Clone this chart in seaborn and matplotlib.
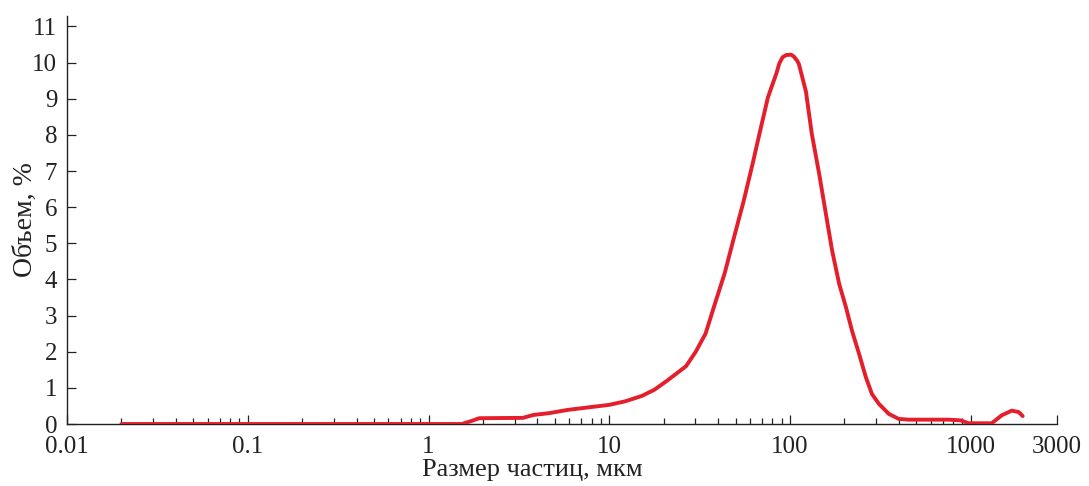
import matplotlib
matplotlib.use("Agg")
import matplotlib.pyplot as plt
import matplotlib.ticker as mticker
import numpy as np
import pandas as pd
import seaborn as sns

# Data (particle size, um -> volume, %)
size_um = [0.02, 1.53, 1.72, 1.91, 3.33, 3.80, 4.64, 5.89, 7.67, 10.0, 12.3, 15.2,
           17.8, 20.9, 23.6, 26.6, 30.1, 34.1, 38.5, 43.5, 49.1, 55.6, 62.1, 68.4,
           75.5, 84.3, 87.3, 91.0, 95.3, 101.3, 105, 109.6, 112, 122.5, 132, 145, 158,
           171, 187, 204, 220, 241, 263, 284, 310, 352, 400, 454, 586, 755, 880, 975,
           1306, 1483, 1686, 1842, 1937]
volume_pct = [0.0, 0.0, 0.08, 0.16, 0.17, 0.25, 0.30, 0.39, 0.46, 0.53, 0.63, 0.78,
              0.95, 1.2, 1.4, 1.6, 2.0, 2.5, 3.34, 4.17, 5.18, 6.2, 7.2, 8.12,
              9.04, 9.72, 9.98, 10.15, 10.21, 10.22, 10.17, 10.05, 9.96, 9.2, 8.03, 6.92, 5.81,
              4.8, 3.88, 3.23, 2.59, 1.94, 1.29, 0.83, 0.56, 0.28, 0.14, 0.12, 0.12, 0.12, 0.10,
              0.02, 0.02, 0.24, 0.37, 0.33, 0.22]

x_major = [0.01, 0.1, 1, 10, 100, 1000, 3000]
x_major_labels = ["0.01", "0.1", "1", "10", "100", "1000", "3000"]
y_ticks = list(range(0, 12))

xlabel = "Размер частиц, мкм"
ylabel = "Объем, %"

sns.set_style("ticks")
plt.rcParams["font.family"] = ["Liberation Serif", "DejaVu Serif"]

fig = plt.figure(figsize=(10.89, 4.86), dpi=100)
ax = fig.add_axes([67 / 1089, 1 - 424 / 486, 990 / 1089, (424 - 16) / 486])

df = pd.DataFrame({"size": size_um, "vol": volume_pct})
sns.lineplot(data=df, x="size", y="vol", ax=ax, color="#e41f2b", linewidth=2.8, zorder=3)
for ln in ax.get_lines():
    ln.set_solid_joinstyle("round")
    ln.set_solid_capstyle("round")

ax.set_xscale("log")
ax.set_xlim(0.01, 3000)
ax.set_ylim(0, 11.29)

ax.xaxis.set_major_locator(mticker.FixedLocator(x_major))
ax.xaxis.set_major_formatter(mticker.FixedFormatter(x_major_labels))
minors = [m * d for d in [0.01, 0.1, 1, 10, 100] for m in range(2, 10)]
ax.xaxis.set_minor_locator(mticker.FixedLocator(minors))
ax.xaxis.set_minor_formatter(mticker.NullFormatter())
ax.set_yticks(y_ticks)

for s in ["top", "right"]:
    ax.spines[s].set_visible(False)
for s in ["left", "bottom"]:
    ax.spines[s].set_linewidth(1.0)
    ax.spines[s].set_color("#222222")

ax.tick_params(axis="both", which="major", direction="in", length=6.5, width=0.9,
               color="#222222", labelsize=18, labelcolor="#222222")
ax.tick_params(axis="x", which="major", pad=8.5)
ax.tick_params(axis="y", which="major", pad=7)
ax.tick_params(axis="x", which="minor", direction="in", length=4, width=0.9, color="#222222")

ax.set_xlabel(xlabel, fontsize=19, color="#222222")
ax.xaxis.set_label_coords((532 - 67) / 990, -0.087)
ax.set_ylabel(ylabel, fontsize=20, color="#222222")
ax.yaxis.set_label_coords(-0.029, 0.5)

fig.savefig("out.png", dpi=100, facecolor="white")
